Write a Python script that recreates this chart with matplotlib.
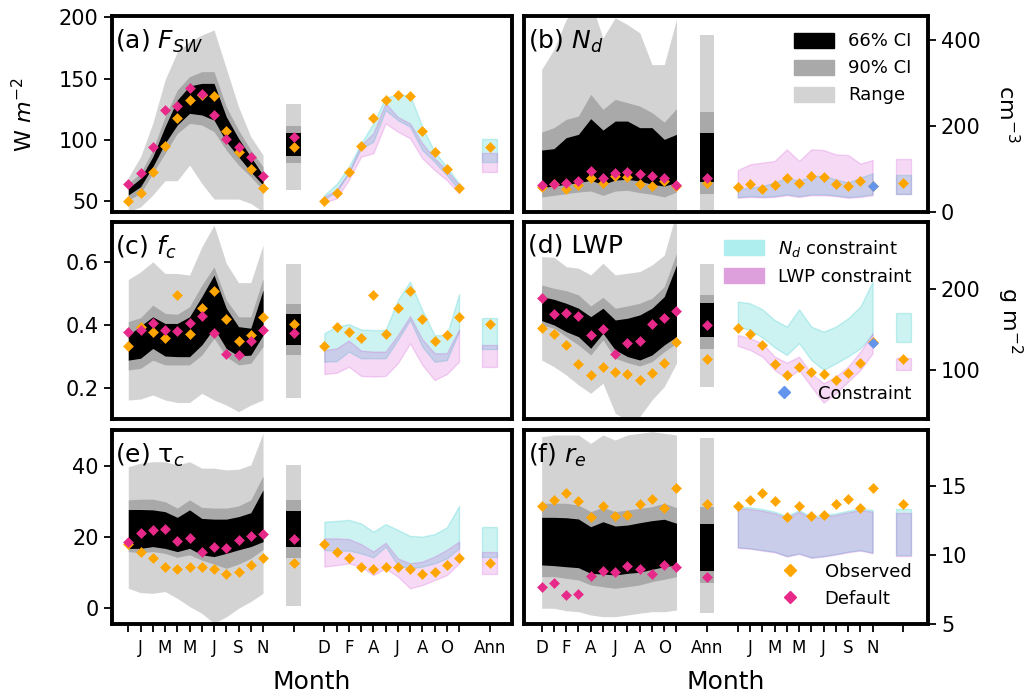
import numpy as np
import matplotlib
matplotlib.use("Agg")
import matplotlib.pyplot as plt
from matplotlib.patches import Patch
from matplotlib.lines import Line2D

# x layout: 12 months (Dec..Nov), annual, 12 months again, annual
months = ['D', 'J', 'F', 'M', 'A', 'M', 'J', 'J', 'A', 'S', 'O', 'N']
x_mon = np.arange(12)
x_ann = 13.5
x_mon2 = np.arange(16, 28)
x_ann2 = 29.5

# ---------------- (a) F_SW ----------------
fsw_obs = [50, 56.5, 73.7, 95, 118, 132.4, 136.2, 135.7, 107.3, 89.6, 75.7, 60.6]
fsw_def = [63.4, 72.4, 94.2, 124.2, 127.7, 142, 137, 120.1, 100.5, 94.2, 85.5, 70.2]
fsw_lo66 = [54.7, 61.5, 77.8, 97, 112, 121.5, 120.2, 116, 98.3, 86, 73.7, 62.8]
fsw_hi66 = [60.1, 68.3, 86, 110.6, 132.4, 143.9, 146, 146, 118.7, 101, 86, 71]
fsw_lo90 = [50.6, 56, 72.4, 88.8, 105.1, 113.3, 112, 106.5, 91.5, 79.2, 69.6, 58.7]
fsw_hi90 = [64.2, 72.4, 91.5, 118.7, 140.6, 151.5, 155.6, 155.6, 126.9, 107.8, 91.5, 77.9]
fsw_lorng = [41, 45, 54.7, 66.4, 66.4, 79.2, 64.2, 51.4, 51.4, 51.4, 47.8, 41]
fsw_hirng = [69, 86, 113.3, 148.8, 171.9, 180.1, 185.5, 189.7, 158.3, 126.9, 102.4, 87.4]
fsw_nd_lo = [51.1, 57.4, 72.4, 92.9, 98.3, 124.2, 116, 110.6, 91.5, 81.9, 71, 58.8]
fsw_nd_hi = [54.7, 63.7, 77.8, 97, 113.3, 134.6, 136.5, 136.5, 110.6, 90.1, 77.8, 64.2]
fsw_lwp_lo = [48.4, 52, 66.9, 86, 88.8, 113.3, 106.5, 101.1, 84.7, 75.1, 66.9, 56.1]
fsw_lwp_hi = [53.3, 58.8, 73.7, 95.6, 105.2, 129.7, 118.7, 113.3, 97, 84.7, 75.1, 62.8]
# annual: obs, default, 66 lo/hi, 90 lo/hi, range lo/hi, nd lo/hi, lwp lo/hi
fsw_ann = [94.2, 102.4, 86.8, 105.6, 81, 111.1, 58.7, 129.1, 81.9, 100.2, 73.8, 88.8]

# ---------------- (b) N_d ----------------
nd_obs = [58.1, 64.4, 52.8, 62.1, 80, 66.7, 83.7, 82.2, 66, 60.5, 72.1, 60.5]
nd_def = [62.1, 66, 68.4, 72.1, 95.3, 80, 91.6, 94, 87.7, 83.7, 78.4, 62.1]
nd_lo66 = [56.7, 60.5, 64.4, 68.4, 73.7, 64.4, 74.4, 76, 72.1, 64.4, 60.5, 68.4]
nd_hi66 = [144.2, 147.4, 173, 180.7, 217.2, 190.7, 211.6, 211.6, 196.3, 196.3, 169, 180.7]
nd_lo90 = [34.9, 38.8, 42.8, 46.5, 48.8, 38.8, 48.8, 50.5, 45.1, 41.2, 34.9, 46.5]
nd_hi90 = [186, 196.3, 215.6, 223.3, 273.7, 238.8, 262.1, 254.4, 246.5, 231.2, 209.3, 240.4]
nd_lorng = [3, 4, 5, 5, 6, 4, 6, 6, 5, 4, 3, 5]
nd_hirng = [332, 378, 448, 480, 490, 405, 452, 436, 417, 343, 343, 448]
nd_nd_lo = [34.9, 37.2, 35.7, 37.2, 41.2, 37.2, 41.2, 41.2, 38.8, 34.9, 37.2, 41.2]
nd_nd_hi = [52.8, 56.7, 60.5, 68.4, 80, 72.1, 83.7, 83.7, 76, 68.4, 80, 90]
nd_lwp_lo = [33, 35, 34, 35, 39, 35, 39, 39, 37, 33, 35, 39]
nd_lwp_hi = [97.7, 110.9, 114.9, 118.6, 145.8, 118.6, 145.8, 144.2, 134.2, 132.6, 112.6, 120.9]
nd_ann = [68.4, 80, 70.7, 184.6, 42.8, 233.5, 0, 411, 42.8, 85.3, 42.8, 124.2]
nd_constraint = 60.5

# ---------------- (c) f_c ----------------
fc_obs = [0.334, 0.395, 0.379, 0.36, 0.495, 0.371, 0.453, 0.507, 0.418, 0.351, 0.368, 0.426]
fc_def = [0.379, 0.384, 0.405, 0.384, 0.381, 0.405, 0.428, 0.376, 0.307, 0.305, 0.351, 0.384]
fc_lo66 = [0.289, 0.295, 0.326, 0.302, 0.3, 0.3, 0.337, 0.39, 0.326, 0.302, 0.305, 0.368]
fc_hi66 = [0.368, 0.397, 0.426, 0.405, 0.405, 0.426, 0.49, 0.558, 0.453, 0.395, 0.39, 0.511]
fc_lo90 = [0.258, 0.263, 0.289, 0.274, 0.274, 0.274, 0.305, 0.358, 0.3, 0.274, 0.279, 0.332]
fc_hi90 = [0.411, 0.423, 0.463, 0.437, 0.434, 0.458, 0.526, 0.584, 0.479, 0.426, 0.426, 0.547]
fc_lorng = [0.163, 0.166, 0.179, 0.163, 0.155, 0.155, 0.184, 0.163, 0.147, 0.126, 0.147, 0.163]
fc_hirng = [0.544, 0.568, 0.6, 0.563, 0.563, 0.558, 0.647, 0.716, 0.595, 0.534, 0.534, 0.653]
fc_nd_lo = [0.284, 0.286, 0.316, 0.295, 0.295, 0.295, 0.353, 0.416, 0.332, 0.284, 0.289, 0.379]
fc_nd_hi = [0.374, 0.395, 0.403, 0.386, 0.384, 0.384, 0.479, 0.537, 0.447, 0.368, 0.368, 0.498]
fc_lwp_lo = [0.245, 0.249, 0.268, 0.239, 0.237, 0.239, 0.279, 0.342, 0.274, 0.226, 0.245, 0.284]
fc_lwp_hi = [0.321, 0.326, 0.351, 0.319, 0.316, 0.316, 0.368, 0.428, 0.355, 0.311, 0.311, 0.386]
fc_ann = [0.403, 0.374, 0.337, 0.434, 0.305, 0.466, 0.168, 0.592, 0.323, 0.423, 0.268, 0.337]

# ---------------- (d) LWP ----------------
lwp_obs = [152.3, 144.1, 130.9, 107.4, 93.8, 104.1, 97.9, 94.7, 87.7, 95.9, 108.2, 134.9]
lwp_def = [188.5, 168.7, 170, 167, 143.2, 150.2, 119.3, 133.7, 135.8, 156.8, 163.8, 173.2]
lwp_lo66 = [160.9, 155.6, 147.3, 141.1, 126.8, 145.3, 124.7, 116.5, 112.3, 118.5, 130.9, 141.1]
lwp_hi66 = [190.5, 187.2, 182.3, 176.2, 165.8, 176.2, 161.7, 163.8, 167.9, 176.2, 190.5, 229.6]
lwp_lo90 = [155.6, 151.5, 141.1, 130.9, 118.5, 137, 114.4, 109, 104.9, 110.2, 122.6, 133]
lwp_hi90 = [204.9, 200.8, 197.9, 192.6, 179, 189.7, 176.2, 179, 182.3, 188.5, 202.8, 244]
lwp_lorng = [112.3, 104.1, 93.8, 81.5, 71.2, 83.6, 46.5, 38, 42.4, 63, 79.4, 108.2]
lwp_hirng = [239.9, 239.1, 227.6, 225.6, 217.3, 231.7, 217.3, 219.4, 221.4, 229.6, 241.7, 295]
lwp_nd_lo = [153.5, 149.4, 140.3, 127.9, 118.5, 133, 112.3, 100, 108.2, 116.5, 126.8, 143.2]
lwp_nd_hi = [184.4, 182.3, 174.9, 161.7, 153.5, 174.9, 153.5, 147.3, 153.5, 163.8, 178.2, 209]
lwp_lwp_lo = [129.6, 124.7, 116.5, 100, 89.7, 100, 79.4, 59.6, 71.2, 85.6, 100, 120.6]
lwp_lwp_hi = [143.2, 139.1, 133, 116.5, 109, 116.5, 95.9, 83.6, 91.8, 104.1, 122.6, 145.3]
lwp_ann = [113.2, 155.2, 141.1, 182.3, 125.9, 192.6, 79.4, 230.5, 134.9, 170, 100, 114.4]
lwp_constraint = 133.7

# ---------------- (e) tau_c ----------------
tau_obs = [18, 15.9, 14, 11.7, 11, 11.5, 11.5, 11, 9.6, 10.3, 12.1, 14.2]
tau_def = [18.5, 21.2, 22, 22.2, 19, 19.6, 15.9, 17.1, 16.8, 19.2, 20.3, 20.8]
tau_lo66 = [16.8, 16.8, 17.3, 16.8, 15.9, 16.8, 15, 14.5, 15.4, 16.4, 17.3, 18.7]
tau_hi66 = [27.7, 27.7, 27.6, 27.1, 25.5, 27.6, 25.2, 25, 25, 25.7, 26.8, 33.2]
tau_lo90 = [15.9, 15.6, 15.9, 15.4, 14.3, 15, 13.5, 12.4, 11.2, 12.4, 14, 16.5]
tau_hi90 = [30.4, 30.6, 30.6, 29.9, 28.1, 30.4, 28.3, 28.1, 28.1, 28.7, 30.4, 37.1]
tau_lorng = [5.6, 4.4, 4.2, 4.7, 2.8, 0.5, -1.4, -4.2, -2.4, 0, 1.9, 4.2]
tau_hirng = [39.7, 40.7, 41.1, 41.1, 40.2, 41.1, 39.3, 39.3, 38.8, 39, 40.2, 49.1]
tau_nd_lo = [16.4, 16.1, 16.2, 15.4, 14.3, 17.3, 12.1, 11.2, 11.7, 12.6, 14, 16.8]
tau_nd_hi = [24.3, 24.5, 24.8, 23.8, 21.5, 23.6, 22, 20.3, 20.1, 20.8, 22.7, 28.7]
tau_lwp_lo = [11.7, 12.1, 12.6, 11.7, 9.3, 11.2, 8.9, 5.6, 6.5, 7.9, 9.3, 12.6]
tau_lwp_hi = [19.6, 19.6, 19.4, 18, 15.9, 18.4, 14, 12.6, 13.1, 14.5, 16.4, 18.7]
tau_ann = [12.6, 19.4, 17.3, 27.4, 14, 30.4, 0.7, 40.2, 14.5, 22.7, 9.6, 15.9]

# ---------------- (f) r_e ----------------
re_obs = [13.57, 13.99, 14.51, 13.91, 12.78, 13.57, 12.85, 12.9, 13.67, 14.06, 13.43, 14.83]
re_def = [7.66, 7.95, 7.1, 7.17, 8.48, 8.84, 8.79, 9.22, 8.99, 8.6, 9.28, 9.11]
re_lo66 = [9.28, 9.23, 9.15, 9.08, 8.67, 8.62, 8.55, 8.67, 8.75, 8.96, 9.15, 9.28]
re_hi66 = [12.73, 12.73, 12.7, 12.61, 12.05, 12.41, 12.1, 12.17, 12.34, 12.49, 12.59, 12.3]
re_lo90 = [8.43, 8.43, 8.31, 8.19, 7.83, 7.7, 7.59, 7.7, 7.83, 8.07, 8.24, 8.43]
re_hi90 = [13.75, 13.75, 13.75, 13.62, 13.14, 13.46, 13.14, 13.26, 13.38, 13.5, 13.75, 13.43]
re_lorng = [6.14, 6.14, 5.96, 5.89, 5.65, 5.53, 5.53, 5.65, 5.78, 5.89, 5.89, 6.01]
re_hirng = [18.57, 18.7, 18.7, 18.7, 18.09, 18.7, 18.33, 18.7, 18.82, 18.94, 18.82, 18.7]
re_nd_lo = [10.56, 10.49, 10.36, 10.24, 9.93, 10.12, 9.83, 9.93, 10.07, 10.24, 10.36, 10.17]
re_nd_hi = [13.5, 13.46, 13.33, 13.14, 12.83, 13.26, 12.78, 12.9, 13.02, 13.21, 13.38, 13.26]
re_lwp_lo = [10.52, 10.45, 10.32, 10.2, 9.89, 10.08, 9.79, 9.89, 10.03, 10.2, 10.32, 10.13]
re_lwp_hi = [13.38, 13.34, 13.21, 13.02, 12.71, 13.14, 12.66, 12.78, 12.9, 13.09, 13.26, 13.14]
re_ann = [13.67, 8.43, 8.86, 12.25, 7.95, 13.45, 5.82, 18.45, 10.0, 13.33, 9.93, 13.02]

C_OBS = 'orange'
C_DEF = '#e7298a'
C_CON = 'cornflowerblue'
C_ND = 'c'
C_LWP = 'm'

panels = [
    ('(a) $F_{SW}$', fsw_obs, fsw_def, fsw_lo66, fsw_hi66, fsw_lo90, fsw_hi90, fsw_lorng, fsw_hirng,
     fsw_nd_lo, fsw_nd_hi, fsw_lwp_lo, fsw_lwp_hi, fsw_ann, None),
    ('(b) $N_d$', nd_obs, nd_def, nd_lo66, nd_hi66, nd_lo90, nd_hi90, nd_lorng, nd_hirng,
     nd_nd_lo, nd_nd_hi, nd_lwp_lo, nd_lwp_hi, nd_ann, nd_constraint),
    ('(c) $f_c$', fc_obs, fc_def, fc_lo66, fc_hi66, fc_lo90, fc_hi90, fc_lorng, fc_hirng,
     fc_nd_lo, fc_nd_hi, fc_lwp_lo, fc_lwp_hi, fc_ann, None),
    ('(d) LWP', lwp_obs, lwp_def, lwp_lo66, lwp_hi66, lwp_lo90, lwp_hi90, lwp_lorng, lwp_hirng,
     lwp_nd_lo, lwp_nd_hi, lwp_lwp_lo, lwp_lwp_hi, lwp_ann, lwp_constraint),
    ('(e) τ$_c$', tau_obs, tau_def, tau_lo66, tau_hi66, tau_lo90, tau_hi90, tau_lorng, tau_hirng,
     tau_nd_lo, tau_nd_hi, tau_lwp_lo, tau_lwp_hi, tau_ann, None),
    ('(f) $r_e$', re_obs, re_def, re_lo66, re_hi66, re_lo90, re_hi90, re_lorng, re_hirng,
     re_nd_lo, re_nd_hi, re_lwp_lo, re_lwp_hi, re_ann, None),
]
ylims = [(40.8, 201.1), (0, 456), (0.103, 0.726), (39.5, 282.7), (-4.4, 50), (5, 19.06)]
yticks = [[50, 100, 150, 200], [0, 200, 400], [0.2, 0.4, 0.6], [100, 200], [0, 20, 40], [5, 10, 15]]
ylabels = ['W $m^{-2}$', 'cm$^{-3}$', None, 'g m$^{-2}$', None, None]

odd_lab = [m if i % 2 else '' for i, m in enumerate(months)]
even_lab = [m if i % 2 == 0 else '' for i, m in enumerate(months)]
xticks = list(x_mon) + [x_ann] + list(x_mon2) + [x_ann2]
xlabels_left = odd_lab + [''] + even_lab + ['Ann']
xlabels_right = even_lab + ['Ann'] + odd_lab + ['']

fig = plt.figure(figsize=(10.29, 6.94), dpi=100)
cols = [(0.1086, 0.3887), (0.5095, 0.3921)]
rows = [(0.6945, 0.2824), (0.3963, 0.2839), (0.1009, 0.2795)]
xlims = [(-1.35, 31.3), (-1.42, 31.5)]

mk = dict(marker='D', ls='none', ms=4.6, mew=0.4, zorder=5)
hw = 0.6
a_nd, a_lwp = 0.2, 0.15

for i, p in enumerate(panels):
    (title, obs, dflt, lo66, hi66, lo90, hi90, lorng, hirng,
     ndlo, ndhi, lwlo, lwhi, ann, con) = p
    r, c = divmod(i, 2)
    ax = fig.add_axes([cols[c][0], rows[r][0], cols[c][1], rows[r][1]])

    # model ensemble
    ax.fill_between(x_mon, lorng, hirng, color='lightgray', lw=0)
    ax.fill_between(x_mon, lo90, hi90, color='darkgray', lw=0)
    ax.fill_between(x_mon, lo66, hi66, color='black', lw=0)
    xa = [x_ann - hw, x_ann + hw]
    ax.fill_between(xa, ann[6], ann[7], color='lightgray', lw=0)
    ax.fill_between(xa, ann[4], ann[5], color='darkgray', lw=0)
    ax.fill_between(xa, ann[2], ann[3], color='black', lw=0)

    # constrained ensembles
    ax.fill_between(x_mon2, ndlo, ndhi, facecolor=C_ND, edgecolor=C_ND, alpha=a_nd, lw=1)
    ax.fill_between(x_mon2, lwlo, lwhi, facecolor=C_LWP, edgecolor=C_LWP, alpha=a_lwp, lw=1)
    xa2 = [x_ann2 - hw, x_ann2 + hw]
    ax.fill_between(xa2, ann[8], ann[9], facecolor=C_ND, edgecolor=C_ND, alpha=a_nd, lw=1)
    ax.fill_between(xa2, ann[10], ann[11], facecolor=C_LWP, edgecolor=C_LWP, alpha=a_lwp, lw=1)

    ax.plot(x_mon, obs, color=C_OBS, **mk)
    ax.plot(x_mon, dflt, color=C_DEF, **mk)
    ax.plot([x_ann], [ann[0]], color=C_OBS, **mk)
    ax.plot([x_ann], [ann[1]], color=C_DEF, **mk)
    ax.plot(x_mon2, obs, color=C_OBS, **mk)
    ax.plot([x_ann2], [ann[0]], color=C_OBS, **mk)
    if con is not None:
        ax.plot([x_mon2[-1]], [con], color=C_CON, **mk)

    ax.set_xlim(*xlims[c])
    ax.set_ylim(*ylims[i])
    ax.set_yticks(yticks[i])
    ax.set_xticks(xticks)
    if r == 2:
        ax.set_xticklabels(xlabels_left if c == 0 else xlabels_right)
        ax.set_xlabel('Month', fontsize=18, labelpad=9)
        ax.tick_params(axis='x', labelsize=12, length=6, width=1.3, pad=5)
    else:
        ax.tick_params(axis='x', bottom=False, labelbottom=False)
    ax.tick_params(axis='y', labelsize=15, length=6, width=1.3)
    if c == 1:
        ax.yaxis.tick_right()
        ax.yaxis.set_label_position('right')
        if ylabels[i]:
            ax.set_ylabel(ylabels[i], fontsize=16, rotation=270, va='bottom', labelpad=10)
    elif ylabels[i]:
        ax.set_ylabel(ylabels[i], fontsize=16, labelpad=16)
    for s in ax.spines.values():
        s.set_linewidth(2.8)

    ax.text(0.008, 0.94, title, transform=ax.transAxes, fontsize=18, va='top', ha='left')

    leg_kw = dict(frameon=False, fontsize=13, handlelength=2.2, handleheight=0.9)
    if i == 1:
        h = [Patch(color='black'), Patch(color='darkgray'), Patch(color='lightgray')]
        ax.legend(h, ['66% CI', '90% CI', 'Range'], loc='upper right', **leg_kw)
    if i == 3:
        h = [Patch(color='paleturquoise'), Patch(color='plum')]
        l1 = ax.legend(h, ['$N_d$ constraint', 'LWP constraint'], loc='upper right', **leg_kw)
        ax.add_artist(l1)
        h2 = [Line2D([], [], color=C_CON, marker='D', ls='none', ms=6.5)]
        ax.legend(h2, ['Constraint'], loc='lower right', **leg_kw)
    if i == 5:
        h = [Line2D([], [], color=C_OBS, marker='D', ls='none', ms=6.5),
             Line2D([], [], color=C_DEF, marker='D', ls='none', ms=6.5)]
        ax.legend(h, ['Observed', 'Default'], loc='lower right', **leg_kw)

fig.savefig('out.png', dpi=100)
